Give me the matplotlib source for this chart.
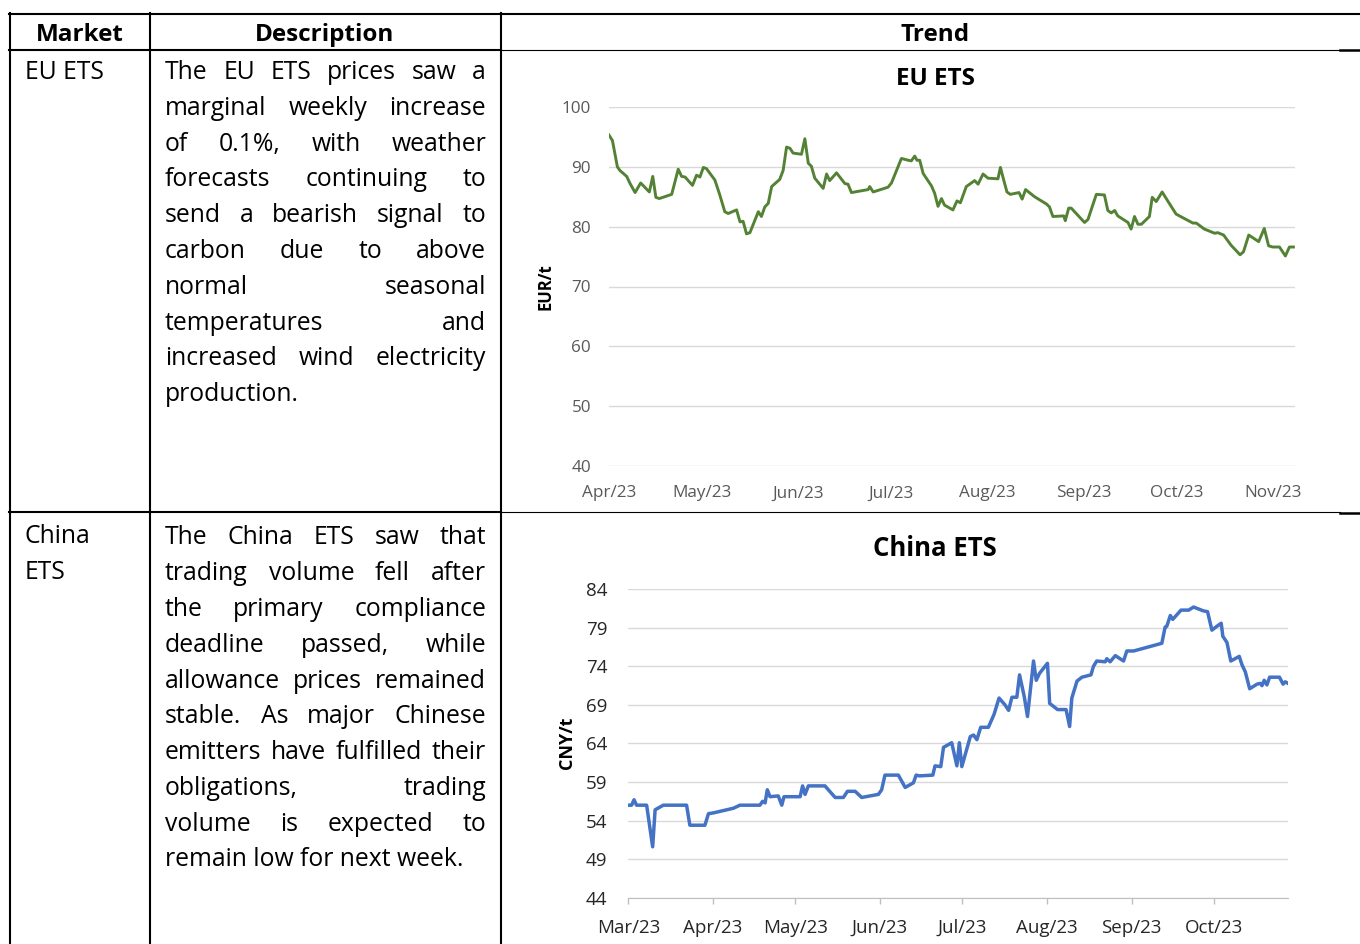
import numpy as np
import pandas as pd
import matplotlib
matplotlib.use('Agg')
import matplotlib.pyplot as plt
import matplotlib.dates as mdates
from matplotlib.font_manager import FontProperties
from matplotlib.lines import Line2D

W, H = 1360, 944

# EU ETS price, days after 1 Apr 2023 / EUR per t
eu_days = [0, 1.1, 2.7, 3.5, 5.7, 6.8, 8.4, 10.2, 13.0, 14.1, 15.1, 16.2, 20.2, 22.3, 23.4,
           24.5, 26.9, 28.2, 29.3, 30.4, 31.4, 34.1, 35.7, 37.3, 38.4, 41.1, 42.2, 43.2, 44.3,
           45.4, 48.1, 49.1, 50.2, 51.3, 52.4, 55.0, 56.1, 57.2, 58.3, 59.3, 62.0, 63.1, 64.2,
           65.2, 66.3, 69.0, 70.1, 71.1, 73.3, 76.0, 77.0, 78.1, 83.5, 84.0, 85.1, 89.9, 91.0,
           93.1, 94.2, 96.4, 97.4, 98.5, 99.2, 100.1, 101.2, 103.9, 104.9, 106.0, 107.1, 108.1,
           110.8, 112.1, 113.2, 115.1, 117.8, 118.9, 120.5, 122.1, 125.3, 126.1, 126.9, 128.2,
           129.3, 132.1, 133.1, 134.2, 137.1, 140.9, 141.9, 143.0, 146.5, 147.0, 148.1, 148.9,
           153.2, 154.3, 157.0, 159.6, 160.7, 161.8, 162.9, 163.9, 167.2, 168.2, 169.3, 170.4,
           171.5, 174.1, 175.0, 176.3, 178.2, 180.0, 182.7, 185.9, 188.1, 189.2, 191.8, 195.1,
           196.1, 198.0, 200.4, 203.3, 204.4, 206.1, 209.3, 211.1, 212.5, 213.8, 216.0, 217.9,
           219.2, 220.5]
eu_price = [95.3, 94.4, 90.0, 89.4, 88.4, 87.2, 85.7, 87.3, 85.8, 88.4, 84.9, 84.7, 85.4, 89.6, 88.4,
            88.3, 86.9, 88.6, 88.3, 89.9, 89.7, 87.8, 85.3, 82.5, 82.2, 82.8, 80.8, 80.9, 78.8,
            79.0, 82.5, 81.7, 83.3, 83.9, 86.7, 87.9, 89.4, 93.3, 93.1, 92.3, 92.1, 94.7, 90.6,
            90.1, 88.1, 86.4, 88.8, 87.7, 89.0, 87.2, 87.1, 85.7, 86.2, 86.7, 85.8, 86.6, 87.3,
            90.0, 91.4, 91.1, 91.0, 91.8, 91.1, 91.1, 88.9, 86.8, 85.6, 83.4, 84.7, 83.6,
            82.8, 84.3, 84.0, 86.7, 87.7, 87.1, 88.8, 88.1, 88.0, 89.9, 88.3, 85.8,
            85.4, 85.7, 84.6, 86.2, 85.0, 83.8, 83.3, 81.7, 81.8, 81.0, 83.1, 83.1,
            80.7, 81.2, 85.4, 85.3, 82.7, 82.3, 82.7, 81.8, 80.7, 79.6, 81.7, 80.4,
            80.4, 81.7, 84.9, 84.2, 85.8, 84.3, 82.1, 81.2, 80.6, 80.6, 79.6, 78.9,
            79.0, 78.6, 76.9, 75.3, 75.8, 78.6, 77.5, 79.7, 76.8, 76.6, 76.6, 75.1,
            76.6, 76.6]

# China ETS price, days after 1 Mar 2023 / CNY per t
cn_days = [0, 1.2, 2.1, 3.0, 6.7, 8.9, 9.8, 12.8, 21.3, 22.5, 28.0, 29.3, 31.1, 38.4, 40.8,
           48.1, 49.1, 50.0, 50.8, 51.8, 54.8, 56.1, 56.9, 62.8, 63.7, 64.6, 65.8, 71.9, 73.1,
           75.6, 78.6, 80.1, 82.9, 85.3, 91.4, 92.6, 93.8, 98.7, 101.2, 104.2, 105.2, 106.4,
           111.3, 112.1, 114.2, 115.2, 118.2, 120.1, 121.0, 121.9, 125.0, 126.2, 127.4, 128.8,
           131.6, 133.7, 135.5, 137.7, 139.0, 140.2, 142.0, 143.0, 144.7, 145.9, 148.1, 149.1,
           150.3, 153.2, 154.0, 156.9, 160.0, 161.3, 162.1, 164.0, 165.8, 169.1, 170.0, 171.2,
           174.3, 174.9, 176.1, 178.0, 181.0, 182.2, 184.7, 195.0, 196.2, 196.8, 198.1, 199.0,
           202.0, 204.8, 206.6, 210.2, 211.7, 213.3, 215.1, 216.7, 217.3, 218.8, 220.2, 223.3,
           224.3, 225.5, 227.1, 229.8, 231.0, 231.6, 232.4, 233.4, 234.4, 238.0, 239.3, 240.1,
           241.1]
cn_price = [56.0, 56.0, 56.7, 56.0, 56.0, 50.6, 55.4, 56.0, 56.0, 53.4, 53.4, 54.9, 55.0, 55.6, 56.0,
            56.0, 56.5, 56.3, 58.0, 57.1, 57.2, 56.0, 57.1, 57.1, 58.5, 57.4, 58.5, 58.5, 58.0,
            57.0, 57.0, 57.8, 57.8, 57.0, 57.4, 58.0, 59.9, 59.9, 58.3, 58.9, 59.9, 59.8,
            59.9, 61.1, 61.0, 63.5, 64.1, 61.1, 64.1, 61.0, 64.9, 65.1, 64.5, 66.1,
            66.1, 67.8, 69.9, 69.0, 68.3, 70.0, 70.0, 72.9, 70.1, 67.5, 74.7, 72.2,
            73.1, 74.4, 69.2, 68.4, 68.4, 66.2, 69.9, 72.1, 72.6, 72.9, 74.0, 74.7,
            74.6, 75.0, 74.6, 75.4, 74.7, 76.0, 76.0, 77.0, 79.1, 79.2, 80.6, 80.1,
            81.3, 81.3, 81.7, 81.2, 81.1, 78.7, 79.2, 79.6, 77.9, 77.1, 74.7, 75.3,
            74.2, 73.3, 71.1, 71.7, 71.8, 71.5, 72.2, 71.6, 72.6, 72.6, 71.7, 72.0,
            71.8]

eu_text = ["The EU ETS prices saw a",
           "marginal weekly increase",
           "of 0.1%, with weather",
           "forecasts continuing to",
           "send a bearish signal to",
           "carbon due to above",
           "normal seasonal",
           "temperatures and",
           "increased wind electricity",
           "production."]
cn_text = ["The China ETS saw that",
           "trading volume fell after",
           "the primary compliance",
           "deadline passed, while",
           "allowance prices remained",
           "stable. As major Chinese",
           "emitters have fulfilled their",
           "obligations, trading",
           "volume is expected to",
           "remain low for next week."]

FONT = 'Open Sans'
fig = plt.figure(figsize=(13.6, 9.44), dpi=100)


def box(x0, y0, x1, y1):
    return [x0 / W, 1 - y1 / H, (x1 - x0) / W, (y1 - y0) / H]


def hline(y, x0, x1, lw=1.5):
    fig.add_artist(Line2D([x0 / W, x1 / W], [1 - y / H, 1 - y / H], color='black', lw=lw))


def vline(x, y0, y1, lw=1.5):
    fig.add_artist(Line2D([x / W, x / W], [1 - y0 / H, 1 - y1 / H], color='black', lw=lw))


# table grid
hline(13.5, 9, 1360)
vline(10, 13, 944)
vline(150, 13, 944)
vline(501, 13, 944)
for yy in (49.5, 512):
    hline(yy, 9, 501)
    hline(yy, 501, 1340, lw=0.8)
    hline(yy + 0.7, 1340, 1360, lw=1.8)

head = FontProperties(family=FONT, size=17.5, weight='bold')
fig.text(80 / W, 1 - 41 / H, 'Market', fontproperties=head, ha='center', va='baseline')
fig.text(325 / W, 1 - 41 / H, 'Description', fontproperties=head, ha='center', va='baseline')
fig.text(935 / W, 1 - 41 / H, 'Trend', fontproperties=head, ha='center', va='baseline')

body = FontProperties(family=FONT, size=17.8)
fig.text(25 / W, 1 - 79 / H, 'EU ETS', fontproperties=body, va='baseline')
fig.text(25 / W, 1 - 543 / H, 'China', fontproperties=body, va='baseline')
fig.text(25 / W, 1 - 579 / H, 'ETS', fontproperties=body, va='baseline')

renderer = fig.canvas.get_renderer()


def justify(lines, x0, x1, y0, step=35.8):
    # word-by-word placement to mimic justified paragraph
    for i, line in enumerate(lines):
        y = 1 - (y0 + i * step) / H
        if i == len(lines) - 1:
            fig.text(x0 / W, y, line, fontproperties=body, va='baseline')
            continue
        words = line.split()
        widths = [renderer.get_text_width_height_descent(w, body, ismath=False)[0] for w in words]
        gap = (x1 - x0 - sum(widths)) / (len(words) - 1)
        x = x0
        for w, wd in zip(words, widths):
            fig.text(x / W, y, w, fontproperties=body, va='baseline')
            x += wd + gap


justify(eu_text, 165, 486, 79)
justify(cn_text, 165, 486, 544.3)

# EU ETS chart
eu_start = pd.Timestamp('2023-04-01')
eu_dates = eu_start + pd.to_timedelta(eu_days, unit='D')
ax1 = fig.add_axes(box(609, 107, 1295, 466))
ax1.plot(eu_dates, eu_price, color='#548235', lw=2.1)
ax1.set_ylim(40, 100)
ax1.set_yticks(np.arange(40, 101, 10))
ax1.set_xlim(eu_start, eu_start + pd.Timedelta(days=221))
ax1.xaxis.set_major_locator(mdates.MonthLocator())
ax1.xaxis.set_major_formatter(mdates.DateFormatter('%b/%y'))
ax1.grid(axis='y', color='#d9d9d9', lw=1)
ax1.set_axisbelow(True)
for s in ax1.spines.values():
    s.set_visible(False)
ax1.tick_params(axis='both', length=0, labelsize=12.3, labelcolor='#595959')
ax1.tick_params(axis='y', pad=13)
ax1.tick_params(axis='x', pad=14)
for lab in ax1.get_xticklabels() + ax1.get_yticklabels():
    lab.set_fontfamily(FONT)
fig.text(935 / W, 1 - 79 / H, 'EU ETS', family=FONT, size=17.5, weight='bold',
         ha='center', va='center')
fig.text(545 / W, 1 - 287 / H, 'EUR/t', family=FONT, size=12, weight='bold',
         rotation=90, ha='center', va='center')

# China ETS chart
cn_start = pd.Timestamp('2023-03-01')
cn_dates = cn_start + pd.to_timedelta(cn_days, unit='D')
ax2 = fig.add_axes(box(628.3, 589.3, 1287.7, 897.7))
ax2.plot(cn_dates, cn_price, color='#4472c4', lw=2.5)
ax2.set_ylim(44, 84)
ax2.set_yticks(np.arange(44, 85, 5))
ax2.set_xlim(cn_start, cn_start + pd.Timedelta(days=241))
ax2.xaxis.set_major_locator(mdates.MonthLocator())
ax2.xaxis.set_major_formatter(mdates.DateFormatter('%b/%y'))
ax2.grid(axis='y', color='#d9d9d9', lw=1)
ax2.set_axisbelow(True)
for k in ('top', 'right', 'left'):
    ax2.spines[k].set_visible(False)
ax2.spines['bottom'].set_color('#bfbfbf')
ax2.tick_params(axis='y', length=0, labelsize=13.5, labelcolor='#262626', pad=15)
ax2.tick_params(axis='x', length=4.5, width=1, color='#bfbfbf', labelsize=13.5,
                labelcolor='#262626', pad=11)
for lab in ax2.get_xticklabels() + ax2.get_yticklabels():
    lab.set_fontfamily(FONT)
fig.text(935 / W, 1 - 548 / H, 'China ETS', family=FONT, size=18.5, weight='bold',
         ha='center', va='center')
fig.text(567 / W, 1 - 743 / H, 'CNY/t', family=FONT, size=13, weight='bold',
         rotation=90, ha='center', va='center')

fig.savefig('out.png', dpi=100)
